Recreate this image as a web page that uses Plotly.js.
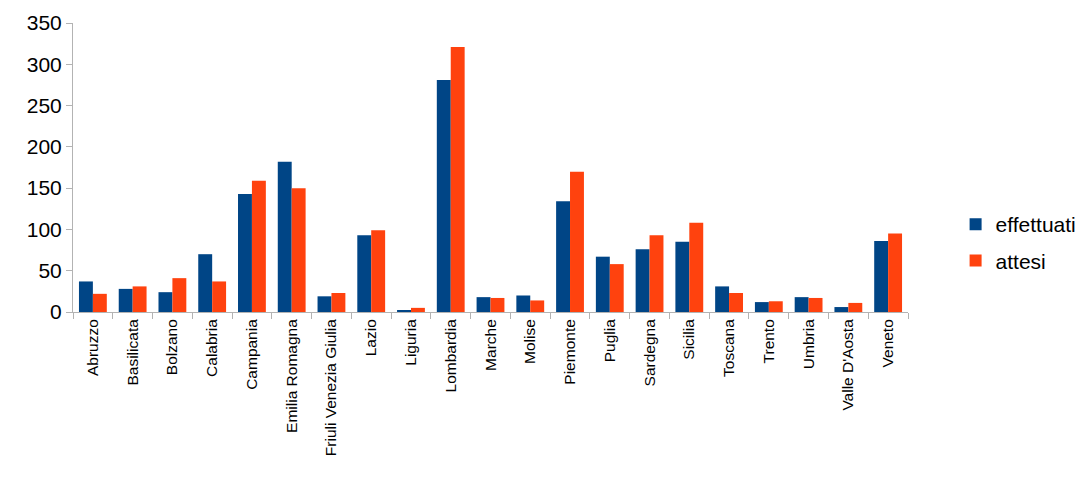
<!DOCTYPE html>
<html>
<head>
<meta charset="utf-8">
<script src="https://cdn.plot.ly/plotly-3.0.1.min.js"></script>
<style>body{margin:0}#plot{width:1090px;height:491px}</style>
</head>
<body>
<div id="plot"></div>
<script>
var regions = ['Abruzzo', 'Basilicata', 'Bolzano', 'Calabria', 'Campania', 'Emilia Romagna', 'Friuli Venezia Giulia', 'Lazio', 'Liguria', 'Lombardia', 'Marche', 'Molise', 'Piemonte', 'Puglia', 'Sardegna', 'Sicilia', 'Toscana', 'Trento', 'Umbria', "Valle D'Aosta", 'Veneto'];
var effettuati = [37, 28, 24, 70, 143, 182, 19, 93, 2, 281, 18, 20, 134, 67, 76, 85, 31, 12, 18, 6, 86];
var attesi = [22, 31, 41, 37, 159, 150, 23, 99, 5, 321, 17, 14, 170, 58, 93, 108, 23, 13, 17, 11, 95];

var font = 'Liberation Sans, Arial, sans-serif';
var traces = [
   {name: 'effettuati', type: 'bar', x: regions, y: effettuati, marker: {color: '#004586'}, legendgroup: 'a'},
   {name: 'attesi', type: 'bar', x: regions, y: attesi, marker: {color: '#ff420e'}, legendgroup: 'b'}
];
var layout = {
   width: 1090, height: 491,
   margin: {l: 73, r: 182, t: 23, b: 179, autoexpand: false},
   paper_bgcolor: 'white', plot_bgcolor: 'white',
   font: {family: font, color: 'black'},
   bargap: 0.3, bargroupgap: 0,
   xaxis: {
      tickangle: -90, tickfont: {size: 15.5},
      showline: true, linecolor: '#b3b3b3',
      ticks: 'outside', tickson: 'boundaries', ticklen: 6, tickcolor: '#b3b3b3'
   },
   yaxis: {
      range: [0, 350], dtick: 50, tickfont: {size: 21},
      showgrid: false, zeroline: false,
      showline: true, linecolor: '#b3b3b3',
      ticks: 'outside', ticklen: 6, tickcolor: '#b3b3b3'
   },
   legend: {x: 1.057, y: 0.24, yanchor: 'middle', font: {size: 21}, tracegroupgap: 6, itemwidth: 30}
};
Plotly.newPlot('plot', traces, layout, {displayModeBar: false});
</script>
</body>
</html>
